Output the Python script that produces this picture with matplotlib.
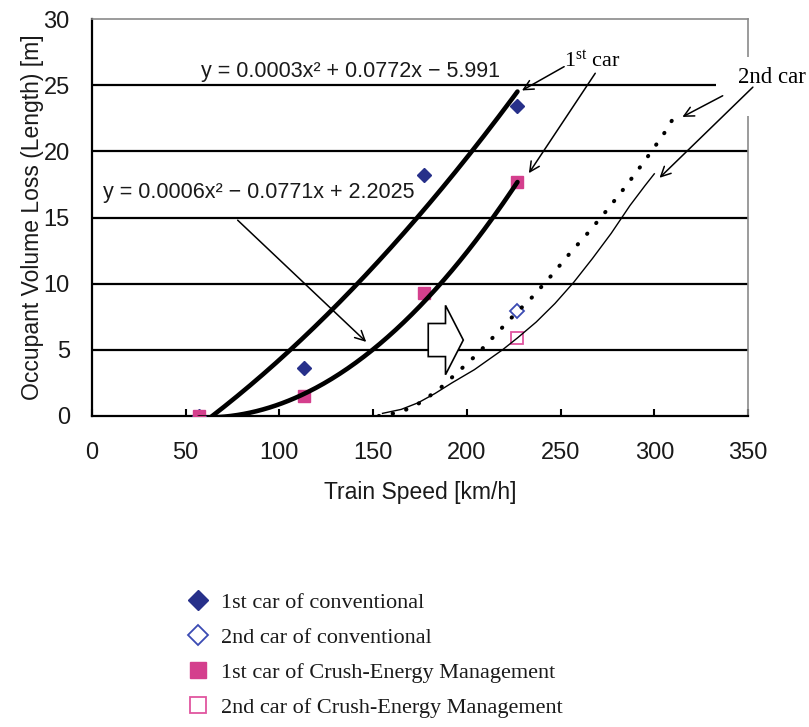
import numpy as np
import matplotlib
matplotlib.use("Agg")
import matplotlib.pyplot as plt
from matplotlib.lines import Line2D
from matplotlib.patches import FancyArrow, Rectangle

plt.rcParams['font.family'] = ['Liberation Sans', 'DejaVu Sans']
plt.rcParams['mathtext.fontset'] = 'custom'
plt.rcParams['mathtext.rm'] = 'Liberation Serif'
plt.rcParams['mathtext.it'] = 'Liberation Serif:italic'

# ---- data -------------------------------------------------------------
speed_1st = [57, 113, 177, 227]
loss_conv_1st = [0.0, 3.6, 18.2, 23.4]
loss_cem_1st = [0.0, 1.5, 9.3, 17.7]
speed_2nd = [227]
loss_conv_2nd = [7.9]
loss_cem_2nd = [5.9]

# quadratic trend lines, y = a*x^2 + b*x + c
trend_conv_1st = [0.000252, 0.0772, -5.991]
trend_cem_1st = [0.00064, -0.0771, 2.2025]
trend_range = [57, 227]

# estimated second-car curves
curve_conv_2nd_x = [153, 165, 175, 185, 195, 205, 215, 225, 235, 245, 255, 265, 275, 285, 295, 305, 311]
curve_conv_2nd_y = [0.0, 0.3, 1.0, 2.0, 3.3, 4.6, 6.1, 7.6, 9.0, 10.6, 12.3, 13.9, 15.6, 17.4, 19.3, 21.3, 22.7]
curve_cem_2nd_x = [155, 165, 174, 183, 192, 204, 219, 227, 237, 247, 257, 267, 277, 287, 295, 300]
curve_cem_2nd_y = [0.2, 0.5, 1.0, 1.7, 2.5, 3.5, 5.0, 5.9, 7.1, 8.5, 10.1, 11.9, 13.8, 15.9, 17.4, 18.3]

x_ticks = [0, 50, 100, 150, 200, 250, 300, 350]
y_ticks = [0, 5, 10, 15, 20, 25, 30]

legend_labels = [
    "1st car of conventional",
    "2nd car of conventional",
    "1st car of Crush-Energy Management",
    "2nd car of Crush-Energy Management",
]

NAVY = '#27308a'
BLUE = '#3b4bb3'
PINK = '#d43f8d'
PINK_EDGE = '#e0559f'
NARROW = ['Liberation Sans Narrow', 'Liberation Sans']
SERIF = ['Liberation Serif', 'DejaVu Serif']
INK = '#1a1a1a'

W, H = 809, 727
fig = plt.figure(figsize=(W / 100, H / 100), dpi=100)
ax = fig.add_axes([92 / W, 1 - 416 / H, (748 - 92) / W, (416 - 19) / H])

ax.set_xlim(0, 350)
ax.set_ylim(0, 30)
ax.set_xticks(x_ticks)
ax.set_yticks(y_ticks)
for y in y_ticks[1:-1]:
    ax.axhline(y, color='black', lw=1.6, zorder=1)

for side in ['left', 'bottom']:
    ax.spines[side].set_color('black')
    ax.spines[side].set_linewidth(1.6)
for side in ['top', 'right']:
    ax.spines[side].set_color('#8a8a8a')
    ax.spines[side].set_linewidth(1.2)

ax.tick_params(axis='x', direction='in', length=5, width=1.5, pad=19, labelsize=17)
ax.tick_params(axis='y', length=0, pad=16, labelsize=17)
for lab in ax.get_xticklabels() + ax.get_yticklabels():
    lab.set_fontfamily(NARROW)
    lab.set_color(INK)

ax.set_xlabel("Train Speed [km/h]", fontsize=16.5, labelpad=12, color=INK)
ax.set_ylabel("Occupant Volume Loss (Length) [m]", fontsize=16.5, labelpad=0, color=INK)

# trend curves
xs = np.linspace(trend_range[0], trend_range[1], 200)
for coef in (trend_conv_1st, trend_cem_1st):
    a, b, c = coef
    ax.plot(xs, a * xs ** 2 + b * xs + c, color='black', lw=3.3, zorder=4,
            solid_capstyle='round')

# second-car curves
ax.plot(curve_conv_2nd_x, curve_conv_2nd_y, color='black', lw=2.9,
        linestyle=(0, (0.1, 3.4)), dash_capstyle='round', zorder=4)
ax.plot(curve_cem_2nd_x, curve_cem_2nd_y, color='black', lw=1.0, zorder=4)

# markers
ax.plot(speed_1st, loss_conv_1st, 'D', ms=7.5, color=NAVY, mec=NAVY, zorder=3, linestyle='none')
ax.plot(speed_1st, loss_cem_1st, 's', ms=9, color=PINK, mec=PINK, zorder=3, linestyle='none')
ax.plot(speed_2nd, loss_conv_2nd, 'D', ms=7.5, mfc='white', mec=BLUE, mew=1.3, zorder=3, linestyle='none')
ax.plot(speed_2nd, loss_cem_2nd, 's', ms=9, mfc='white', mec=PINK_EDGE, mew=1.3, zorder=3, linestyle='none')


def trend_text(coef):
    a, b, c = coef
    sb = '+' if b >= 0 else '\u2212'
    sc = '+' if c >= 0 else '\u2212'
    return f"y = {a:.4f}x\u00b2 {sb} {abs(b):.4f}x {sc} {abs(c):g}"


ax.text(138, 26.0, trend_text(trend_conv_1st), fontsize=15.5, ha='center', va='center',
        color=INK, zorder=6)
ax.text(89, 16.9, trend_text(trend_cem_1st), fontsize=15.5, ha='center', va='center',
        color=INK, zorder=6)

arrow_kw = dict(arrowstyle='->,head_length=0.7,head_width=0.35', color='black', lw=1.1,
                shrinkA=0, shrinkB=0, clip_on=False)

# pointer from the second equation to its curve
ax.annotate('', xy=(146.3, 5.6), xytext=(77.7, 14.8), arrowprops=arrow_kw)

# car labels with pointers
ax.text(267, 26.8, r"1$^{\mathrm{st}}$ car", fontfamily=SERIF, fontsize=16,
        ha='center', va='center', zorder=6)
ax.annotate('', xy=(229.4, 24.6), xytext=(251.9, 26.4), arrowprops=arrow_kw)
ax.annotate('', xy=(233.1, 18.35), xytext=(268.5, 25.9), arrowprops=arrow_kw)

ax.add_patch(Rectangle((333, 22.7), 40, 4.4, facecolor='white', edgecolor='none',
                       zorder=5, clip_on=False))
ax.text(363, 25.6, "2nd car", fontfamily=SERIF, fontsize=16.5, ha='center', va='center',
        zorder=6, clip_on=False)
ax.annotate('', xy=(315, 22.6), xytext=(336.5, 24.2), arrowprops=arrow_kw,
            annotation_clip=False, zorder=7)
ax.annotate('', xy=(302.8, 18.0), xytext=(352.6, 24.85), arrowprops=arrow_kw,
            annotation_clip=False, zorder=7)

# hollow block arrow
ax.add_patch(FancyArrow(179.4, 5.74, 18.7, 0, width=2.5, head_width=5.24,
                        head_length=9.5, length_includes_head=True,
                        facecolor='white', edgecolor='black', lw=1.2, zorder=6))

# legend below the plot
handles = [
    Line2D([], [], marker='D', ms=10.5, color=NAVY, mec=NAVY, linestyle='none'),
    Line2D([], [], marker='D', ms=10.5, mfc='white', mec=BLUE, mew=1.3, linestyle='none'),
    Line2D([], [], marker='s', ms=11.5, color=PINK, mec=PINK, linestyle='none'),
    Line2D([], [], marker='s', ms=11.5, mfc='white', mec=PINK_EDGE, mew=1.3, linestyle='none'),
]
fig.legend(handles, legend_labels, loc='upper left', bbox_to_anchor=(189 / W, 1 - 592 / H),
           frameon=False, prop={'family': SERIF, 'size': 16.0}, handlelength=0.8,
           handletextpad=0.62, labelspacing=0.66, borderpad=0, borderaxespad=0,
           labelcolor=INK)

fig.savefig("out.png", dpi=100, facecolor='white')
